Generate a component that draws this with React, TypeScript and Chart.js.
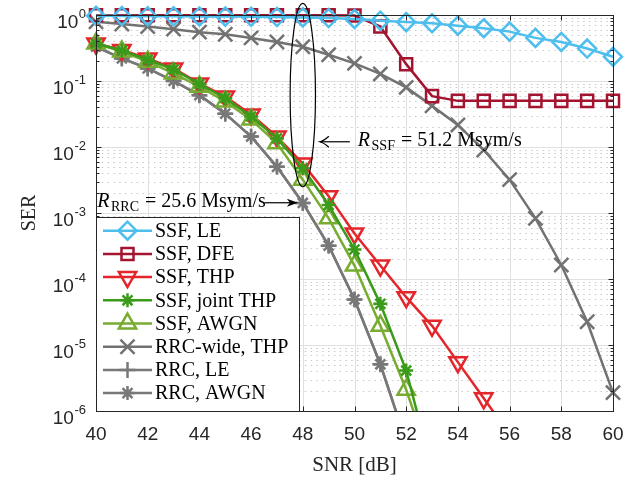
import React, { useEffect, useRef } from 'react';
import { Chart, registerables } from 'chart.js';
import { drawPoint } from 'chart.js/helpers';

Chart.register(...registerables);

// ---------- data ----------
const snr = [40, 41, 42, 43, 44, 45, 46, 47, 48, 49, 50, 51, 52, 53, 54, 55, 56, 57, 58, 59, 60];
const serSsfLE = [0.97, 0.965, 0.96, 0.955, 0.95, 0.945, 0.94, 0.93, 0.92, 0.9, 0.87, 0.82, 0.78, 0.75, 0.69, 0.63, 0.56, 0.45, 0.39, 0.31, 0.233];
const serSsfDFE = [0.99, 0.99, 0.99, 0.99, 0.99, 0.99, 0.99, 0.99, 0.99, 0.99, 0.98, 0.67, 0.18, 0.059, 0.05, 0.05, 0.05, 0.05, 0.05, 0.05, 0.05];
const serSsfTHP = [0.37, 0.295, 0.22, 0.155, 0.092, 0.058, 0.031, 0.0144, 0.0056, 0.0018, 4.9e-4, 1.6e-4, 5.3e-5, 1.95e-5, 5.5e-6, 1.56e-6, 4.4e-7, null, null, null, null];
const serSsfJointTHP = [0.37, 0.29, 0.21, 0.15, 0.09, 0.055, 0.029, 0.0135, 0.0048, 1.32e-3, 2.8e-4, 4.2e-5, 4.1e-6, 1.3e-7, null, null, null, null, null, null, null];
const serSsfAWGN = [0.37, 0.28, 0.196, 0.13, 0.082, 0.049, 0.026, 0.0114, 0.0032, 8.3e-4, 1.6e-4, 1.95e-5, 2.1e-6, 1.5e-7, null, null, null, null, null, null, null];
const serRrcWideTHP = [0.79, 0.73, 0.67, 0.61, 0.55, 0.51, 0.45, 0.39, 0.33, 0.25, 0.185, 0.128, 0.08, 0.042, 0.0216, 0.009, 0.0032, 8.3e-4, 1.63e-4, 2.25e-5, 1.9e-6];
const serRrcLE = [0.33, 0.22, 0.155, 0.1, 0.061, 0.032, 0.0144, 0.005, 1.42e-3, 3.2e-4, 4.9e-5, 5.1e-6, 3.4e-7, null, null, null, null, null, null, null, null];
const serRrcAWGN = [0.33, 0.22, 0.155, 0.1, 0.061, 0.032, 0.0144, 0.005, 1.42e-3, 3.2e-4, 4.9e-5, 5.1e-6, 3.4e-7, null, null, null, null, null, null, null, null];

const seriesLabels = ['SSF, LE', 'SSF, DFE', 'SSF, THP', 'SSF, joint THP', 'SSF, AWGN', 'RRC-wide, THP', 'RRC, LE', 'RRC, AWGN'];
const xTicks = [40, 42, 44, 46, 48, 50, 52, 54, 56, 58, 60];
const yDecades = [0, -1, -2, -3, -4, -5, -6];
const noteSSF = { sub: 'SSF', text: '51.2 Msym/s' };
const noteRRC = { sub: 'RRC', text: '25.6 Msym/s' };

// ---------- styles ----------
const styles = [
  { color: '#4DBEEE', pointStyle: 'rectRot', radius: 9, rotation: 0, order: 0 },
  { color: '#A2142F', pointStyle: 'rect', radius: 8.5, rotation: 0, order: 4 },
  { color: '#E3262B', pointStyle: 'triangle', radius: 10, rotation: 180, order: 3 },
  { color: '#3A9A1A', pointStyle: 'star', radius: 7, rotation: 0, order: 1 },
  { color: '#77AC30', pointStyle: 'triangle', radius: 10, rotation: 0, order: 2 },
  { color: '#727272', pointStyle: 'crossRot', radius: 10, rotation: 0, order: 7 },
  { color: '#787878', pointStyle: 'cross', radius: 8, rotation: 0, order: 6 },
  { color: '#787878', pointStyle: 'star', radius: 7, rotation: 0, order: 5 },
];
const seriesValues = [serSsfLE, serSsfDFE, serSsfTHP, serSsfJointTHP, serSsfAWGN, serRrcWideTHP, serRrcLE, serRrcAWGN];

const TEXT = '#262626';
const SERIF = '"Liberation Serif", "DejaVu Serif", serif';
const SANS = '"Liberation Sans", Arial, sans-serif';

function drawArrow(ctx: CanvasRenderingContext2D, x1: number, y: number, x2: number, filled: boolean) {
  // from x1 (tail) to x2 (head)
  const dir = Math.sign(x2 - x1);
  ctx.save();
  ctx.strokeStyle = '#000';
  ctx.fillStyle = '#000';
  ctx.lineWidth = 1.2;
  ctx.beginPath();
  ctx.moveTo(x1, y);
  ctx.lineTo(x2 - dir * (filled ? 6 : 0), y);
  ctx.stroke();
  if (filled) {
    ctx.beginPath();
    ctx.moveTo(x2, y);
    ctx.lineTo(x2 - dir * 11, y - 4);
    ctx.lineTo(x2 - dir * 8, y);
    ctx.lineTo(x2 - dir * 11, y + 4);
    ctx.closePath();
    ctx.fill();
  } else {
    ctx.beginPath();
    ctx.moveTo(x2 - dir * 9, y - 5.5);
    ctx.quadraticCurveTo(x2 - dir * 4, y - 1, x2, y);
    ctx.quadraticCurveTo(x2 - dir * 4, y + 1, x2 - dir * 9, y + 5.5);
    ctx.stroke();
  }
  ctx.restore();
}

function drawRateLabel(ctx: CanvasRenderingContext2D, x: number, baseline: number, sub: string, text: string) {
  ctx.save();
  ctx.fillStyle = '#000';
  ctx.textAlign = 'left';
  ctx.textBaseline = 'alphabetic';
  ctx.font = `italic 20px ${SERIF}`;
  ctx.fillText('R', x, baseline);
  let cx = x + ctx.measureText('R').width + 1.5;
  ctx.font = `14px ${SERIF}`;
  ctx.fillText(sub, cx, baseline + 4);
  cx += ctx.measureText(sub).width + 6;
  ctx.font = `20px ${SERIF}`;
  ctx.fillText('=', cx, baseline);
  cx += ctx.measureText('=').width + 5;
  ctx.fillText(text, cx, baseline);
  ctx.restore();
}

const customPlugin = {
  id: 'matlabLook',
  beforeDatasetsDraw(chart: any) {
    const { ctx, chartArea: a, scales } = chart;
    const xs = scales.x;
    const ys = scales.y;
    ctx.save();
    // minor dotted grid (y)
    ctx.strokeStyle = '#c8c8c8';
    ctx.lineWidth = 1;
    ctx.setLineDash([1.5, 4.3]);
    for (const d of yDecades) {
      if (d === 0) continue;
      for (let k = 2; k <= 9; k++) {
        const y = Math.round(ys.getPixelForValue(k * Math.pow(10, d))) + 0.5;
        ctx.beginPath();
        ctx.moveTo(a.left, y);
        ctx.lineTo(a.right, y);
        ctx.stroke();
      }
    }
    ctx.setLineDash([]);
    // major grid
    ctx.strokeStyle = '#e0e0e0';
    for (const d of yDecades) {
      const y = Math.round(ys.getPixelForValue(Math.pow(10, d))) + 0.5;
      ctx.beginPath();
      ctx.moveTo(a.left, y);
      ctx.lineTo(a.right, y);
      ctx.stroke();
    }
    for (const t of xTicks) {
      const x = Math.round(xs.getPixelForValue(t)) + 0.5;
      ctx.beginPath();
      ctx.moveTo(x, a.top);
      ctx.lineTo(x, a.bottom);
      ctx.stroke();
    }
    ctx.restore();
  },
  afterDatasetsDraw(chart: any) {
    const { ctx, chartArea: a, scales } = chart;
    const xs = scales.x;
    const ys = scales.y;
    ctx.save();
    // axes box
    ctx.strokeStyle = TEXT;
    ctx.lineWidth = 1;
    const L = Math.round(a.left) + 0.5, R = Math.round(a.right) + 0.5;
    const T = Math.round(a.top) + 0.5, B = Math.round(a.bottom) + 0.5;
    ctx.strokeRect(L, T, R - L, B - T);
    // ticks
    ctx.beginPath();
    for (const t of xTicks) {
      const x = Math.round(xs.getPixelForValue(t)) + 0.5;
      ctx.moveTo(x, B); ctx.lineTo(x, B - 5);
      ctx.moveTo(x, T); ctx.lineTo(x, T + 5);
    }
    for (const d of yDecades) {
      const y = Math.round(ys.getPixelForValue(Math.pow(10, d))) + 0.5;
      ctx.moveTo(L, y); ctx.lineTo(L + 5, y);
      ctx.moveTo(R, y); ctx.lineTo(R - 5, y);
      if (d === 0) continue;
      for (let k = 2; k <= 9; k++) {
        const ym = Math.round(ys.getPixelForValue(k * Math.pow(10, d))) + 0.5;
        ctx.moveTo(L, ym); ctx.lineTo(L + 3, ym);
        ctx.moveTo(R, ym); ctx.lineTo(R - 3, ym);
      }
    }
    ctx.stroke();

    // y tick labels with superscripts
    ctx.fillStyle = TEXT;
    ctx.textBaseline = 'alphabetic';
    ctx.textAlign = 'left';
    for (const d of yDecades) {
      const y = ys.getPixelForValue(Math.pow(10, d));
      const exp = d === 0 ? '0' : '-' + Math.abs(d);
      ctx.font = `13px ${SANS}`;
      const ew = ctx.measureText(exp).width;
      ctx.font = `19px ${SANS}`;
      const bw = ctx.measureText('10').width;
      const right = a.left - 10;
      ctx.fillText('10', right - ew - bw - 0.5, y + 13);
      ctx.font = `13px ${SANS}`;
      ctx.fillText(exp, right - ew, y + 2.5);
    }

    // axis titles
    ctx.fillStyle = TEXT;
    ctx.font = `21px ${SERIF}`;
    ctx.textAlign = 'center';
    ctx.fillText('SNR [dB]', (a.left + a.right) / 2, 471);
    ctx.save();
    ctx.translate(35, (a.top + a.bottom) / 2);
    ctx.rotate(-Math.PI / 2);
    ctx.font = `20px ${SERIF}`;
    ctx.fillText('SER', 0, 0);
    ctx.restore();

    // ellipse annotation
    const ex = xs.getPixelForValue(48);
    const eTop = ys.getPixelForValue(1.5);
    const eBot = ys.getPixelForValue(2.5e-3);
    const erx = xs.getPixelForValue(48.49) - ex;
    ctx.strokeStyle = '#000';
    ctx.lineWidth = 1.2;
    ctx.beginPath();
    ctx.ellipse(ex, (eTop + eBot) / 2, erx, (eBot - eTop) / 2, 0, 0, Math.PI * 2);
    ctx.stroke();

    // arrows and rate labels
    const ay1 = ys.getPixelForValue(0.012);
    drawArrow(ctx, xs.getPixelForValue(49.82), ay1, xs.getPixelForValue(48.66), false);
    drawRateLabel(ctx, xs.getPixelForValue(50.13), ay1 + 4.5, noteSSF.sub, noteSSF.text);
    const ay2 = ys.getPixelForValue(1.43e-3);
    drawArrow(ctx, xs.getPixelForValue(46.53), ay2, xs.getPixelForValue(47.81), true);
    drawRateLabel(ctx, xs.getPixelForValue(40.05), ay2 + 4.5, noteRRC.sub, noteRRC.text);

    // legend
    const lx = L, ly = 217.5, lw = 203, lh = B - 217.5;
    ctx.fillStyle = '#fff';
    ctx.fillRect(lx, ly, lw, lh);
    ctx.strokeStyle = TEXT;
    ctx.lineWidth = 1;
    ctx.strokeRect(lx, ly, lw, lh);
    chart.data.datasets.forEach((ds: any, i: number) => {
      const cy = 230.7 + i * 23.2;
      ctx.strokeStyle = ds.borderColor;
      ctx.lineWidth = 2.5;
      ctx.beginPath();
      ctx.moveTo(103, cy);
      ctx.lineTo(152, cy);
      ctx.stroke();
      ctx.fillStyle = 'rgba(0,0,0,0)';
      ctx.strokeStyle = ds.borderColor;
      ctx.lineWidth = 2.5;
      drawPoint(ctx, {
        pointStyle: ds.pointStyle,
        rotation: ds.pointRotation,
        radius: ds.pointRadius,
        borderWidth: 2.5,
      } as any, 127.5, cy);
      ctx.fillStyle = '#000';
      ctx.font = `20px ${SERIF}`;
      ctx.textAlign = 'left';
      ctx.textBaseline = 'middle';
      ctx.fillText(ds.label, 155, cy + 1);
    });
    ctx.restore();
  },
};

export default function App() {
  const canvasRef = useRef<HTMLCanvasElement | null>(null);

  useEffect(() => {
    const canvas = canvasRef.current;
    if (!canvas) return;
    const datasets = seriesLabels.map((label, i) => ({
      label,
      data: seriesValues[i],
      borderColor: styles[i].color,
      backgroundColor: 'rgba(0,0,0,0)',
      borderWidth: 2.5,
      pointStyle: styles[i].pointStyle,
      pointRotation: styles[i].rotation,
      pointRadius: styles[i].radius,
      pointBorderWidth: 2.5,
      pointBorderColor: styles[i].color,
      pointBackgroundColor: 'rgba(0,0,0,0)',
      tension: 0,
      fill: false,
      spanGaps: false,
      order: styles[i].order,
      clip: { left: 14, right: 14, top: 14, bottom: 0 },
    }));

    const chart = new Chart(canvas, {
      type: 'line',
      data: { labels: snr, datasets: datasets as any },
      options: {
        responsive: false,
        animation: false,
        devicePixelRatio: 1,
        parsing: { xAxisKey: undefined } as any,
        layout: { padding: { top: 15, right: 26, left: 0, bottom: 0 } },
        plugins: { legend: { display: false }, tooltip: { enabled: false } },
        scales: {
          x: {
            type: 'linear',
            min: 40,
            max: 60,
            grid: { display: false, drawTicks: false },
            border: { display: false },
            ticks: {
              stepSize: 2,
              padding: 12,
              color: TEXT,
              font: { family: SANS, size: 19 },
              maxRotation: 0,
              autoSkip: false,
            },
            afterFit: (s: any) => { s.height = 70; },
          },
          y: {
            type: 'logarithmic',
            min: 1e-6,
            max: 1,
            grid: { display: false },
            border: { display: false },
            ticks: { display: false },
            afterFit: (s: any) => { s.width = 96; },
          },
        },
      },
      plugins: [customPlugin],
    });
    return () => chart.destroy();
  }, []);

  return (
    <div style={{ position: 'fixed', left: 0, top: 0, width: 639, height: 481, background: '#fff' }}>
      <canvas ref={canvasRef} width={639} height={481} />
    </div>
  );
}
